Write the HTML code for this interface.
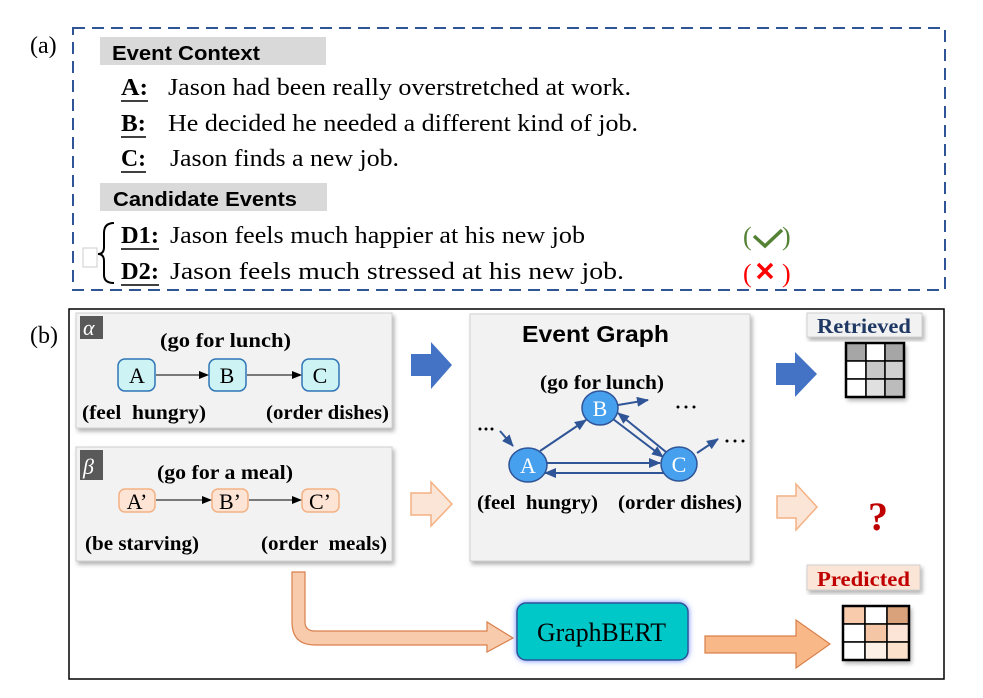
<!DOCTYPE html>
<html><head><meta charset="utf-8"><style>
html,body{margin:0;padding:0;background:#fff;}
svg{display:block;}
.s{font-family:"Liberation Serif",serif;}
.ss{font-family:"Liberation Sans",sans-serif;}
</style></head><body>
<svg width="983" height="698" viewBox="0 0 983 698" xmlns="http://www.w3.org/2000/svg">
<defs>
<marker id="ak" markerWidth="10" markerHeight="8" refX="9" refY="4" orient="auto" markerUnits="userSpaceOnUse"><path d="M0,0 L10,4 L0,8 z" fill="#000"/></marker>
<marker id="ab" markerWidth="12" markerHeight="10" refX="11" refY="5" orient="auto" markerUnits="userSpaceOnUse"><path d="M0,0 L12,5 L0,10 z" fill="#2f5597"/></marker>
<filter id="sh" x="-10%" y="-10%" width="130%" height="130%"><feDropShadow dx="2" dy="3" stdDeviation="2" flood-color="#000" flood-opacity="0.3"/></filter>
<filter id="gl" x="-20%" y="-30%" width="140%" height="160%"><feDropShadow dx="0" dy="0" stdDeviation="3" flood-color="#4060ff" flood-opacity="0.8"/></filter>
</defs>

<!-- (a) -->
<text x="30" y="53" class="s" font-size="24">(a)</text>
<rect x="73" y="28" width="872" height="262" fill="none" stroke="#2f5597" stroke-width="2" stroke-dasharray="12,7"/>
<rect x="100" y="37" width="226" height="28" fill="#d9d9d9"/>
<text x="112" y="60" class="ss" font-size="20" font-weight="bold" textLength="148" lengthAdjust="spacingAndGlyphs">Event Context</text>
<g class="s" font-size="24">
<text x="121" y="95" font-weight="bold" textLength="27" lengthAdjust="spacingAndGlyphs">A:</text><line x1="121" y1="101" x2="148" y2="101" stroke="#000" stroke-width="1.5"/>
<text x="168" y="95" textLength="463" lengthAdjust="spacingAndGlyphs">Jason had been really overstretched at work.</text>
<text x="121" y="131" font-weight="bold" textLength="25" lengthAdjust="spacingAndGlyphs">B:</text><line x1="121" y1="137" x2="146" y2="137" stroke="#000" stroke-width="1.5"/>
<text x="168" y="131" textLength="470" lengthAdjust="spacingAndGlyphs">He decided he needed a different kind of job.</text>
<text x="121" y="166" font-weight="bold" textLength="25" lengthAdjust="spacingAndGlyphs">C:</text><line x1="121" y1="172" x2="146" y2="172" stroke="#000" stroke-width="1.5"/>
<text x="170" y="166" textLength="229" lengthAdjust="spacingAndGlyphs">Jason finds a new job.</text>
</g>
<rect x="100" y="183" width="227" height="28" fill="#d9d9d9"/>
<text x="113" y="206" class="ss" font-size="20" font-weight="bold" textLength="184" lengthAdjust="spacingAndGlyphs">Candidate Events</text>
<rect x="83" y="248" width="14" height="19" fill="#fff" stroke="#ccc"/>
<path d="M114,223 Q104,223 104,233 L104,247 Q104,254 98,254 Q104,254 104,261 L104,275 Q104,283 114,283" fill="none" stroke="#000" stroke-width="2"/>
<g class="s" font-size="24">
<text x="121" y="243" font-weight="bold" textLength="38" lengthAdjust="spacingAndGlyphs">D1:</text><line x1="121" y1="249" x2="159" y2="249" stroke="#000" stroke-width="1.5"/>
<text x="170" y="243" textLength="415" lengthAdjust="spacingAndGlyphs">Jason feels much happier at his new job</text>
<text x="121" y="279" font-weight="bold" textLength="38" lengthAdjust="spacingAndGlyphs">D2:</text><line x1="121" y1="285" x2="159" y2="285" stroke="#000" stroke-width="1.5"/>
<text x="170" y="279" textLength="454" lengthAdjust="spacingAndGlyphs">Jason feels much stressed at his new job.</text>
<text x="743" y="245" fill="#548235" font-size="26">(</text><text x="782" y="245" fill="#548235" font-size="26">)</text>
<text x="743" y="282" fill="#ff0000" font-size="26">(</text><text x="782" y="282" fill="#ff0000" font-size="26">)</text>
</g>
<path d="M754,236 L765,246 L782,230" fill="none" stroke="#548235" stroke-width="3.5"/>
<path d="M758,264 L772,278 M772,264 L758,278" stroke="#ff0000" stroke-width="3.5"/>

<!-- (b) -->
<text x="30" y="343" class="s" font-size="24">(b)</text>
<rect x="69" y="309" width="875" height="370" fill="none" stroke="#000" stroke-width="1.5"/>

<!-- alpha box -->
<rect x="76" y="313" width="316" height="115" fill="#f2f2f2" stroke="#d0d0d0" filter="url(#sh)"/>
<rect x="80" y="316" width="23" height="23" fill="#595959"/>
<text x="83" y="335" fill="#fff" font-size="22" font-style="italic" class="s">α</text>
<text x="160" y="347" class="s" font-size="20" font-weight="bold" textLength="131" lengthAdjust="spacingAndGlyphs">(go for lunch)</text>
<g fill="#cdf3f5" stroke="#2e75b6" stroke-width="1.5">
<rect x="118" y="359" width="37" height="32" rx="7"/>
<rect x="209" y="359" width="37" height="32" rx="7"/>
<rect x="302" y="359" width="37" height="32" rx="7"/>
</g>
<g class="s" font-size="22" text-anchor="middle"><text x="137" y="383">A</text><text x="227" y="383">B</text><text x="320" y="383">C</text></g>
<line x1="156" y1="375" x2="208" y2="375" stroke="#000" stroke-width="1" marker-end="url(#ak)"/>
<line x1="247" y1="375" x2="301" y2="375" stroke="#000" stroke-width="1" marker-end="url(#ak)"/>
<text x="82" y="419" class="s" font-size="20" font-weight="bold" xml:space="preserve" textLength="124" lengthAdjust="spacingAndGlyphs">(feel  hungry)</text>
<text x="266" y="419" class="s" font-size="20" font-weight="bold" textLength="123" lengthAdjust="spacingAndGlyphs">(order dishes)</text>

<!-- beta box -->
<rect x="76" y="447" width="316" height="114" fill="#f2f2f2" stroke="#d0d0d0" filter="url(#sh)"/>
<rect x="80" y="450" width="23" height="30" fill="#595959"/>
<text x="83" y="474" fill="#fff" font-size="22" font-style="italic" class="s">β</text>
<text x="157" y="479" class="s" font-size="20" font-weight="bold" textLength="136" lengthAdjust="spacingAndGlyphs">(go for a meal)</text>
<g fill="#fde4d4" stroke="#f4b183" stroke-width="1.5">
<rect x="119" y="489" width="36" height="23" rx="6"/>
<rect x="212" y="489" width="36" height="23" rx="6"/>
<rect x="302" y="489" width="37" height="23" rx="6"/>
</g>
<g class="s" font-size="22" text-anchor="middle"><text x="137" y="509">A’</text><text x="230" y="509">B’</text><text x="320" y="509">C’</text></g>
<line x1="156" y1="500" x2="211" y2="500" stroke="#000" stroke-width="1" marker-end="url(#ak)"/>
<line x1="249" y1="500" x2="301" y2="500" stroke="#000" stroke-width="1" marker-end="url(#ak)"/>
<text x="85" y="550" class="s" font-size="20" font-weight="bold" textLength="114" lengthAdjust="spacingAndGlyphs">(be starving)</text>
<text x="261" y="550" class="s" font-size="20" font-weight="bold" xml:space="preserve" textLength="126" lengthAdjust="spacingAndGlyphs">(order  meals)</text>

<!-- arrows middle -->
<path d="M411,354 L431,354 L431,342 L452,365 L431,389 L431,376 L411,376 z" fill="#4472c4"/>
<path d="M411,493 L431,493 L431,482 L452,504 L431,526 L431,515 L411,515 z" fill="#fbe5d6" stroke="#f4b183" stroke-width="1.5"/>
<path d="M776,363 L795,363 L795,352 L817,374 L795,397 L795,385 L776,385 z" fill="#4472c4"/>
<path d="M777,496 L796,496 L796,484 L817,507 L796,530 L796,518 L777,518 z" fill="#fbe5d6" stroke="#f4b183" stroke-width="1.5"/>

<!-- Event graph -->
<rect x="470" y="314" width="280" height="247" fill="#f2f2f2" stroke="#d0d0d0" filter="url(#sh)"/>
<text x="522" y="342" class="ss" font-size="23" font-weight="bold" textLength="147" lengthAdjust="spacingAndGlyphs">Event Graph</text>
<text x="540" y="389" class="s" font-size="20" font-weight="bold" textLength="124" lengthAdjust="spacingAndGlyphs">(go for lunch)</text>
<g stroke="#2f5597" stroke-width="2" fill="none">
<line x1="540" y1="451" x2="586" y2="420" marker-end="url(#ab)"/>
<line x1="613" y1="419" x2="663" y2="457" marker-end="url(#ab)"/>
<line x1="666" y1="452" x2="618" y2="413" marker-end="url(#ab)"/>
<line x1="547" y1="463" x2="660" y2="463" marker-end="url(#ab)"/>
<line x1="664" y1="473" x2="545" y2="473" marker-end="url(#ab)"/>
<line x1="618" y1="405" x2="648" y2="400" marker-end="url(#ab)"/>
<line x1="697" y1="453" x2="718" y2="439" marker-end="url(#ab)"/>
<line x1="500" y1="431" x2="513" y2="446" marker-end="url(#ab)"/>
</g>
<g fill="#47a0ee" stroke="#2f5597" stroke-width="1.5">
<ellipse cx="600" cy="408" rx="18" ry="17"/>
<ellipse cx="528" cy="465" rx="19" ry="17"/>
<ellipse cx="679" cy="464" rx="18" ry="17"/>
</g>
<g class="s" font-size="22" fill="#fff" text-anchor="middle"><text x="600" y="416">B</text><text x="528" y="473">A</text><text x="679" y="472">C</text></g>
<g fill="#000"><circle cx="480" cy="429" r="1.5"/><circle cx="486" cy="429" r="1.5"/><circle cx="492" cy="429" r="1.5"/>
<circle cx="678" cy="407" r="1.5"/><circle cx="686" cy="407" r="1.5"/><circle cx="694" cy="407" r="1.5"/>
<circle cx="727" cy="441" r="1.5"/><circle cx="735" cy="441" r="1.5"/><circle cx="743" cy="441" r="1.5"/></g>
<text x="477" y="509" class="s" font-size="20" font-weight="bold" xml:space="preserve" textLength="121" lengthAdjust="spacingAndGlyphs">(feel  hungry)</text>
<text x="618" y="509" class="s" font-size="20" font-weight="bold" textLength="124" lengthAdjust="spacingAndGlyphs">(order dishes)</text>

<!-- Retrieved -->
<rect x="807" y="313" width="115" height="24" fill="#f2f2f2" stroke="#d0d0d0" filter="url(#sh)"/>
<text x="817" y="333" class="s" font-size="21" font-weight="bold" fill="#1f3864" textLength="94" lengthAdjust="spacingAndGlyphs">Retrieved</text>
<g stroke="#000" stroke-width="1.5" filter="url(#sh)">
<rect x="846" y="343" width="20" height="18" fill="#a6a6a6"/><rect x="866" y="343" width="19" height="18" fill="#fff"/><rect x="885" y="343" width="19" height="18" fill="#a6a6a6"/>
<rect x="846" y="361" width="20" height="18" fill="#fff"/><rect x="866" y="361" width="19" height="18" fill="#c8c8c8"/><rect x="885" y="361" width="19" height="18" fill="#d0d0d0"/>
<rect x="846" y="379" width="20" height="18" fill="#fff"/><rect x="866" y="379" width="19" height="18" fill="#e0e0e0"/><rect x="885" y="379" width="19" height="18" fill="#bcbcbc"/>
</g>
<rect x="846" y="343" width="58" height="54" fill="none" stroke="#000" stroke-width="2.5"/>
<text x="878" y="530" class="s" font-size="40" font-weight="bold" fill="#c00000" text-anchor="middle">?</text>

<!-- Predicted -->
<rect x="807" y="565" width="113" height="25" fill="#fbe5d6" stroke="#d0d0d0" filter="url(#sh)"/>
<text x="817" y="586" class="s" font-size="21" font-weight="bold" fill="#c00000" textLength="93" lengthAdjust="spacingAndGlyphs">Predicted</text>
<g stroke="#000" stroke-width="1.5" filter="url(#sh)">
<rect x="843" y="606" width="22" height="18" fill="#f8cbad"/><rect x="865" y="606" width="22" height="18" fill="#fff"/><rect x="887" y="606" width="22" height="18" fill="#d9a27a"/>
<rect x="843" y="624" width="22" height="18" fill="#fff"/><rect x="865" y="624" width="22" height="18" fill="#f4c6a6"/><rect x="887" y="624" width="22" height="18" fill="#fce4d6"/>
<rect x="843" y="642" width="22" height="18" fill="#fff"/><rect x="865" y="642" width="22" height="18" fill="#fdf0e6"/><rect x="887" y="642" width="22" height="18" fill="#fbe0cc"/>
</g>
<rect x="843" y="606" width="66" height="54" fill="none" stroke="#000" stroke-width="2.5"/>

<!-- L arrow -->
<path d="M292,572 L305,572 L305,622 Q305,631 315,631 L487,631 L487,622 L513,638 L487,652 L487,645 L315,645 Q292,645 292,622 z" fill="#f8cbad" stroke="#d9804a" stroke-width="1.2"/>

<!-- GraphBERT -->
<rect x="517" y="603" width="171" height="57" rx="9" fill="#00c8c8" stroke="#2f5597" stroke-width="1.5" filter="url(#gl)"/>
<text x="537" y="641" class="s" font-size="26" textLength="129" lengthAdjust="spacingAndGlyphs">GraphBERT</text>

<!-- right arrow -->
<path d="M705,636 L796,636 L796,620 L830,644 L796,668 L796,653 L705,653 z" fill="#f8b888" stroke="#d9804a" stroke-width="1.2"/>
</svg>
</body></html>
